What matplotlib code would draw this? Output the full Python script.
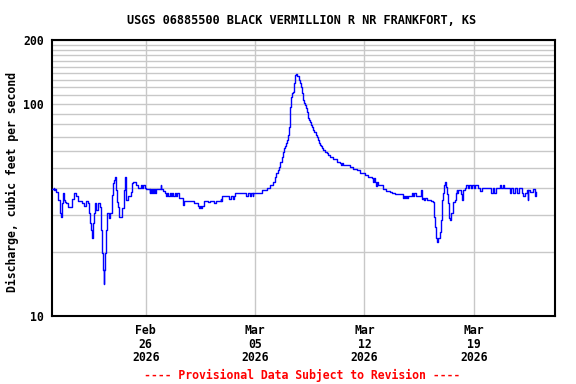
import numpy as np
import pandas as pd
import matplotlib
matplotlib.use("Agg")
import matplotlib.pyplot as plt
import matplotlib.dates as mdates
from matplotlib.ticker import FixedLocator, NullFormatter

# discharge record, days after 2026-02-20 00:00 and cfs
day_offsets = [
    0.00, 0.10, 0.15, 0.20, 0.26, 0.38, 0.51, 0.57, 0.64, 0.70, 0.77, 0.83, 0.90,
    1.02, 1.28, 1.40, 1.53, 1.66, 1.91, 2.04, 2.17, 2.30, 2.36, 2.43, 2.49, 2.55,
    2.62, 2.68, 2.74, 2.81, 2.94, 3.06, 3.13, 3.19, 3.25, 3.30, 3.35, 3.40, 3.45,
    3.51, 3.57, 3.64, 3.70, 3.83, 3.89, 3.96, 4.02, 4.08, 4.15, 4.21, 4.28, 4.47,
    4.60, 4.66, 4.72, 4.85, 5.04, 5.10, 5.17, 5.36, 5.49, 5.68, 5.75, 5.85, 5.95,
    6.00, 6.19, 6.25, 6.30, 6.35, 6.42, 6.48, 6.55, 6.60, 6.64, 6.95, 6.98, 7.08,
    7.21, 7.29, 7.37, 7.45, 7.53, 7.61, 7.69, 7.77, 7.85, 7.93, 8.01, 8.10, 8.36,
    8.40, 8.45, 9.06, 9.32, 9.40, 9.45, 9.53, 9.60, 9.70, 9.96, 10.10, 10.40,
    10.53, 10.79, 10.85, 10.91, 11.23, 11.35, 11.45, 11.60, 11.65, 11.74, 12.38,
    12.45, 12.55, 12.65, 12.75, 12.85, 12.89, 13.47, 13.78, 13.98, 14.17, 14.29,
    14.36, 14.45, 14.55, 14.62, 14.70, 14.78, 14.86, 14.93, 15.00, 15.06, 15.12,
    15.19, 15.22, 15.25, 15.31, 15.38, 15.44, 15.48, 15.53, 15.57, 15.64, 15.70,
    15.78, 15.83, 15.89, 15.96, 16.02, 16.08, 16.14, 16.21, 16.28, 16.34, 16.37,
    16.40, 16.47, 16.53, 16.60, 16.66, 16.72, 16.78, 16.88, 16.98, 17.04, 17.10,
    17.17, 17.23, 17.30, 17.36, 17.48, 17.61, 17.70, 17.80, 18.00, 18.25, 18.44,
    18.50, 18.56, 18.62, 18.76, 19.08, 19.27, 19.50, 19.72, 20.04, 20.20, 20.49,
    20.55, 20.62, 20.70, 20.75, 20.80, 20.87, 21.19, 21.40, 21.63, 21.75, 21.95,
    22.46, 22.52, 22.59, 22.65, 22.72, 22.78, 23.04, 23.12, 23.20, 23.30, 23.42,
    23.61, 23.66, 23.74, 23.82, 23.90, 24.00, 24.06, 24.25, 24.38, 24.44, 24.51,
    24.57, 24.64, 24.70, 24.82, 24.88, 24.95, 25.00, 25.08, 25.14, 25.20, 25.27,
    25.33, 25.40, 25.46, 25.53, 25.65, 25.78, 25.84, 25.91, 25.95, 25.97, 26.17,
    26.25, 26.29, 26.42, 26.50, 26.60, 26.70, 26.80, 26.90, 27.00, 27.10, 27.25,
    27.38, 27.50, 28.02, 28.10, 28.20, 28.30, 28.40, 28.46, 28.65, 28.75, 28.85,
    28.95, 29.04, 29.29, 29.40, 29.50, 29.62, 29.75, 29.88, 30.06, 30.15, 30.25,
    30.38, 30.45, 30.47, 30.57, 30.76, 30.89, 30.95, 31.01,
]
discharge = [
    39.5, 40.2, 39.3, 39.7, 38.5, 35.3, 30.6, 29.3, 34.1, 38.0, 35.3, 34.5, 34.1,
    32.7, 35.6, 38.0, 36.8, 34.9, 34.1, 33.0, 34.9, 34.1, 30.6, 27.5, 25.4, 23.3,
    27.5, 30.6, 34.1, 31.6, 34.1, 32.7, 25.4, 19.8, 16.5, 14.2, 16.5, 19.8, 25.4,
    30.6, 30.6, 29.0, 30.6, 37.2, 42.4, 43.6, 45.3, 39.3, 34.5, 32.7, 29.3, 32.3,
    39.3, 45.3, 35.3, 36.8, 38.5, 42.4, 42.9, 41.5, 40.2, 41.5, 40.2, 41.5, 40.2,
    39.7, 39.7, 38.0, 39.7, 38.0, 39.7, 38.0, 39.7, 38.0, 39.7, 41.5, 39.7, 38.9,
    38.0, 36.8, 38.0, 36.8, 38.0, 36.8, 38.0, 36.8, 38.0, 36.8, 38.0, 36.0, 34.9,
    33.5, 34.9, 34.1, 33.0, 32.3, 33.0, 32.3, 33.0, 34.9, 34.5, 34.9, 34.1,
    34.9, 35.6, 34.9, 36.8, 36.8, 35.5, 36.8, 35.5, 36.8, 38.0, 38.0,
    36.8, 38.0, 36.8, 38.0, 36.8, 38.0, 39.3, 40.2, 41.5, 42.9, 45.3,
    47.3, 48.8, 50.4, 53.3, 56.2, 59.3, 62.0, 63.4, 65.5, 67.6, 71.4,
    78.0, 90.0, 96.8, 107.9, 112.7, 113.8, 125.7, 133.0, 137.0, 138.0, 136.0,
    133.0, 129.8, 125.0, 120.0, 112.7, 104.4, 101.0, 98.9, 95.7, 91.7, 88.7,
    85.9, 84.0, 82.2, 79.6, 77.9, 75.4, 73.8, 71.4, 69.9, 67.6, 65.5,
    64.1, 63.4, 62.0, 60.7, 59.3, 58.7, 57.4, 56.2, 55.0, 53.3, 52.7,
    51.6, 52.7, 51.6, 51.6, 50.4, 49.5, 48.8, 47.3, 46.2, 45.3, 44.5,
    42.9, 44.5, 42.9, 41.0, 42.9, 41.5, 39.7, 38.9, 38.5, 38.0, 37.6,
    36.0, 36.8, 36.0, 36.8, 36.0, 36.8, 38.0, 36.8, 38.0, 36.8, 36.8,
    39.3, 35.5, 36.0, 35.3, 36.0, 35.3, 35.3, 34.9, 34.5, 29.3, 26.3,
    23.3, 22.3, 23.3, 24.9, 28.4, 35.3, 38.0, 41.5, 42.9, 40.6, 37.6,
    34.1, 29.0, 28.4, 30.6, 34.5, 35.3, 38.0, 39.3, 38.0, 39.3, 37.6,
    35.3, 39.3, 40.2, 41.5, 40.2, 41.5, 40.2, 41.5, 40.2, 41.5, 40.2,
    38.9, 40.2, 40.2, 38.0, 40.2, 38.0, 40.2, 40.2, 41.5, 40.2, 41.5,
    40.2, 40.2, 38.0, 40.2, 38.0, 40.2, 38.0, 40.2, 38.0, 36.8, 38.0,
    39.3, 35.3, 39.3, 38.5, 39.7, 38.5, 36.8, 38.5,
]

start = pd.Timestamp("2026-02-20")
end_day = 32.2
tick_dates = ["2026-02-26", "2026-03-05", "2026-03-12", "2026-03-19"]
tick_labels = ["Feb\n26\n2026", "Mar\n05\n2026", "Mar\n12\n2026", "Mar\n19\n2026"]
y_ticks = [10, 100, 200]
y_minor = [20, 30, 40, 50, 60, 70, 80, 90, 110, 120, 130, 140, 150, 160, 170, 180, 190]

times = start + pd.to_timedelta(np.array(day_offsets), unit="D")

mono = "DejaVu Sans Mono"
fs = 8.3

fig = plt.figure(figsize=(5.76, 3.84), dpi=100)
ax = fig.add_axes([52 / 576, 1 - 316 / 384, 503 / 576, 276 / 384])

ax.plot(times, discharge, color="#0000ff", lw=1.0, drawstyle="steps-post", zorder=3)

ax.set_yscale("log")
ax.set_ylim(10, 200)
ax.set_xlim(start, start + pd.Timedelta(days=end_day))

ax.yaxis.set_major_locator(FixedLocator(y_ticks))
ax.yaxis.set_minor_locator(FixedLocator(y_minor))
ax.yaxis.set_minor_formatter(NullFormatter())
ax.set_yticklabels([str(v) for v in y_ticks], fontfamily=mono, fontweight="bold", fontsize=fs)

ax.set_xticks([mdates.date2num(pd.Timestamp(d)) for d in tick_dates])
ax.set_xticklabels(tick_labels, fontfamily=mono, fontweight="bold", fontsize=fs,
                   linespacing=1.03)

ax.grid(True, which="both", color="#c8c8c8", lw=1.0, zorder=0)
ax.tick_params(which="both", length=0)
ax.tick_params(axis="y", pad=6)
ax.tick_params(axis="x", pad=6)
for s in ax.spines.values():
    s.set_linewidth(1.5)
    s.set_color("black")

fig.text(12 / 576, 1 - 182 / 384, "Discharge, cubic feet per second", rotation=90,
         ha="center", va="center", fontfamily=mono, fontweight="bold", fontsize=fs)

fig.text(302 / 576, 1 - 20 / 384, "USGS 06885500 BLACK VERMILLION R NR FRANKFORT, KS",
         ha="center", va="center", fontfamily=mono, fontweight="bold", fontsize=8.6)
fig.text(302 / 576, 1 - 375 / 384, "---- Provisional Data Subject to Revision ----",
         ha="center", va="center", fontfamily=mono, fontweight="bold", fontsize=fs,
         color="red")

fig.savefig("out.png", dpi=100)
